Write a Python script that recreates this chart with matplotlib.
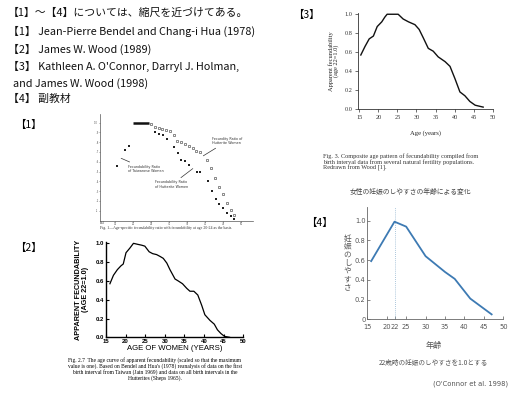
import matplotlib
matplotlib.use('Agg')
import matplotlib.pyplot as plt

W, H = 527, 393
JP = ['Noto Sans CJK JP', 'DejaVu Sans']
NARROW = ['DejaVu Sans']
SERIF = ['Liberation Serif', 'DejaVu Serif']
SANS = ['Liberation Sans', 'DejaVu Sans']

# header text
header_lines = ['【1】～【4】については、縮尺を近づけてある。',
                '【1】 Jean-Pierre Bendel and Chang-i Hua (1978)',
                '【2】 James W. Wood (1989)',
                '【3】 Kathleen A. O\'Connor, Darryl J. Holman,',
                'and James W. Wood (1998)',
                '【4】 副教材']

# [1] Bendel & Hua (1978)
b_taiwan_age = [15.5, 17.8, 18.8]
b_taiwan_val = [0.56, 0.72, 0.76]
b_base_age = [20, 24.5]
b_base_val = [1.0, 1.0]
b_upper_age = [25.0, 26.1, 27.1, 28.1, 29.2, 30.3, 31.3, 32.3, 33.3, 34.4, 35.6,
               36.6, 37.6, 38.5, 40.6, 41.7, 42.8, 43.9, 44.9, 46.0, 47.1, 48.1]
b_upper_val = [0.98, 0.95, 0.94, 0.93, 0.92, 0.91, 0.87, 0.81, 0.80, 0.78, 0.76,
               0.74, 0.71, 0.70, 0.62, 0.54, 0.43, 0.34, 0.27, 0.18, 0.11, 0.06]
b_lower_age = [26.1, 27.2, 28.2, 29.3, 31.5, 32.4, 33.4, 34.5, 35.6, 37.7, 38.7,
               40.8, 41.8, 42.9, 43.9, 45.0, 46.1, 47.1, 48.1]
b_lower_val = [0.90, 0.88, 0.87, 0.83, 0.75, 0.69, 0.62, 0.61, 0.57, 0.50, 0.50,
               0.40, 0.30, 0.22, 0.17, 0.13, 0.08, 0.05, 0.02]
b_yticks = [0.1, 0.2, 0.3, 0.4, 0.5, 0.6, 0.7, 0.8, 0.9, 1.0]
b_ylabels = ['.1', '.2', '.3', '.4', '.5', '.6', '.7', '.8', '.9', '1.0']
b_xticks = [15, 20, 25, 30, 35, 40, 45, 50]

# [2] Wood (1989)
w_age = [16.0, 16.9, 17.9, 18.8, 19.4, 20.1, 21.1, 22.0, 23.0, 24.1, 24.9, 26.0,
         26.9, 27.9, 28.8, 29.6, 30.5, 31.3, 32.6, 33.4, 34.5, 35.6, 36.4, 37.4,
         38.4, 39.4, 40.2, 41.5, 42.6, 43.4, 44.3, 45.2, 46.5]
w_val = [0.57, 0.66, 0.72, 0.76, 0.78, 0.90, 0.95, 1.00, 0.99, 0.98, 0.97, 0.91,
         0.89, 0.88, 0.86, 0.84, 0.79, 0.72, 0.62, 0.60, 0.57, 0.52, 0.49, 0.49,
         0.45, 0.34, 0.24, 0.18, 0.14, 0.08, 0.04, 0.01, 0.0]

# [3] O'Connor et al. (1998)
o_age = [15.4, 16.5, 17.6, 18.7, 19.7, 20.9, 21.7, 22.3, 25.2, 26.5, 27.9, 29.6,
         30.7, 31.8, 33.1, 34.4, 35.7, 37.5, 38.8, 40.1, 41.4, 42.7, 44.0, 45.4, 47.5]
o_val = [0.57, 0.66, 0.74, 0.77, 0.87, 0.92, 0.97, 1.0, 1.0, 0.95, 0.92, 0.89,
         0.84, 0.75, 0.64, 0.61, 0.55, 0.50, 0.45, 0.32, 0.18, 0.14, 0.08, 0.04, 0.02]

# [4] 副教材
f_age = [16, 22, 25, 30, 35, 37.5, 41.5, 47]
f_val = [0.59, 0.99, 0.94, 0.64, 0.48, 0.41, 0.21, 0.05]
f_xticks = [15, 20, 22, 25, 30, 35, 40, 45, 50]
f_yticks = [0, 0.2, 0.4, 0.6, 0.8, 1.0]
f_ylabels = ['0', '0.2', '0.4', '0.6', '0.8', '1.0']

fig = plt.figure(figsize=(W / 100, H / 100), dpi=100)


def box(x0, y0, x1, y1):
    return [x0 / W, 1 - y1 / H, (x1 - x0) / W, (y1 - y0) / H]


def ftext(x, y, s, **kw):
    kw.setdefault('va', 'center')
    return fig.text(x / W, 1 - y / H, s, **kw)


# header block
header_y = [13, 31.7, 49, 66.7, 83.3, 99.3]
for line, y in zip(header_lines, header_y):
    x = 13 if line.startswith('and') else 8
    ftext(x, y, line, family=JP, fontsize=7.8, color='#111111')

# bracket labels
ftext(28.5, 125, '【1】', family=JP, fontsize=7.5, ha='center')
ftext(28.5, 248, '【2】', family=JP, fontsize=7.5, ha='center')
ftext(306, 15, '【3】', family=JP, fontsize=7.5, ha='center')
ftext(319, 222.7, '【4】', family=JP, fontsize=7.5, ha='center')

# ---- [1]
ax1 = fig.add_axes(box(100, 114, 253, 220.5))
ax1.plot(b_taiwan_age, b_taiwan_val, 's', ms=1.6, color='#222222', mew=0)
ax1.plot(b_base_age, b_base_val, '-', lw=1.8, color='#111111', solid_capstyle='butt')
ax1.plot(b_upper_age, b_upper_val, 's', ms=1.7, mfc='white', mec='#333333', mew=0.4)
ax1.plot(b_lower_age, b_lower_val, 's', ms=1.6, color='#222222', mew=0)
ax1.set_xlim(10.83, 53.3)
ax1.set_ylim(0, 1.087)
for s in ['top', 'right']:
    ax1.spines[s].set_visible(False)
for s in ['left', 'bottom']:
    ax1.spines[s].set_linewidth(0.5)
    ax1.spines[s].set_color('#555555')
ax1.set_yticks(b_yticks)
ax1.set_yticklabels(b_ylabels)
ax1.set_xticks(b_xticks)
ax1.tick_params(labelsize=1.8, length=1.0, width=0.4, pad=0.6, colors='#555555')
ax1.tick_params(axis='x', pad=0.1)
ax1.text(11.5, -0.01, 'AGE', fontsize=1.8, color='#555555', va='top', ha='center')
ann = dict(arrowstyle='-', lw=0.5, color='#333333', shrinkA=0, shrinkB=0)
ax1.annotate('Fecundability Ratio\nof Taiwanese Women', xy=(16.7, 0.635), xytext=(18.6, 0.525),
             fontsize=2.4, va='center', ha='left', color='#333333', arrowprops=ann)
ax1.annotate('Fecundity Ratio of\nHutterite Women', xy=(39.5, 0.66), xytext=(41.9, 0.81),
             fontsize=2.4, va='center', ha='left', color='#333333', arrowprops=ann)
ax1.annotate('Fecundability Ratio\nof Hutterite Women', xy=(36.6, 0.53), xytext=(26.1, 0.365),
             fontsize=2.4, va='center', ha='left', color='#333333', arrowprops=ann)
ftext(100, 227.5, 'Fig. 1\u2014Age-specific fecundability ratio with fecundability at age 20-24 as the basis.',
      family=SERIF, fontsize=2.8, color='#333333')

# ---- [2]
ax2 = fig.add_axes(box(106, 242, 243.3, 337.3))
ax2.plot(w_age, w_val, '-', lw=0.9, color='black')
ax2.set_xlim(15, 50)
ax2.set_ylim(0, 1.014)
for s in ['top', 'right']:
    ax2.spines[s].set_visible(False)
for s in ['left', 'bottom']:
    ax2.spines[s].set_linewidth(1.0)
ax2.set_xticks([15, 20, 25, 30, 35, 40, 45, 50])
ax2.set_yticks([0, 0.2, 0.4, 0.6, 0.8, 1.0])
ax2.set_yticklabels(['0.0', '0.2', '0.4', '0.6', '0.8', '1.0'])
ax2.tick_params(direction='in', length=2.5, width=0.8, labelsize=4.3, pad=1.5)
for lab in ax2.get_xticklabels() + ax2.get_yticklabels():
    lab.set_fontweight('bold')
    lab.set_family(SANS)
ax2.set_xlabel('AGE OF WOMEN (YEARS)', family=SANS, fontsize=5.6, labelpad=0.5)
ax2.set_ylabel('APPARENT FECUNDABILITY\n(AGE 22=1.0)', family=SANS, fontsize=5.2,
               fontweight='bold', labelpad=5, linespacing=0.95)
ftext(155, 369, 'Fig. 2.7  The age curve of apparent fecundability (scaled so that the maximum\n'
      'value is one). Based on Bendel and Hua\'s (1978) reanalysis of data on the first\n'
      'birth interval from Taiwan (Jain 1969) and data on all birth intervals in the\n'
      'Hutterites (Sheps 1965).', family=SERIF, fontsize=4.0, ha='center',
      multialignment='center', linespacing=0.95)

# ---- [3]
ax3 = fig.add_axes(box(358.3, 13.3, 492.7, 109))
ax3.plot(o_age, o_val, '-', lw=1.0, color='#111111')
ax3.set_xlim(14.74, 50)
ax3.set_ylim(0, 1.01)
for s in ['top', 'right']:
    ax3.spines[s].set_visible(False)
for s in ['left', 'bottom']:
    ax3.spines[s].set_linewidth(0.6)
    ax3.spines[s].set_color('#333333')
ax3.set_xticks([15, 20, 25, 30, 35, 40, 45, 50])
ax3.set_yticks([0, 0.2, 0.4, 0.6, 0.8, 1.0])
ax3.set_yticklabels(['0.0', '0.2', '0.4', '0.6', '0.8', '1.0'])
ax3.tick_params(direction='out', length=2, width=0.5, labelsize=4.5, pad=2, colors='#333333')
for lab in ax3.get_xticklabels() + ax3.get_yticklabels():
    lab.set_family(SERIF)
ax3.set_xlabel('Age (years)', family=SERIF, fontsize=4.8, labelpad=8, color='#222222')
ax3.set_ylabel('Apparent fecundability\n(age 22=1.0)', family=SERIF, fontsize=4.6,
               labelpad=4, linespacing=1.0, color='#222222')
ftext(323, 162.5, 'Fig. 3. Composite age pattern of fecundability compiled from\n'
      'birth interval data from several natural fertility populations.\n'
      'Redrawn from Wood [1].', family=SERIF, fontsize=4.5, linespacing=1.05,
      color='#333333')

# ---- [4]
ftext(410, 191.7, '女性の妊娠のしやすさの年齢による変化', family=JP, fontsize=4.9,
      ha='center', color='#444444')
ax4 = fig.add_axes(box(367.3, 206.7, 503.3, 319.3))
ax4.axvline(22, ls=(0, (1, 1.5)), lw=0.6, color='#8fb3cf')
ax4.plot(f_age, f_val, '-', lw=1.3, color='#3d7ab3')
ax4.set_xlim(15, 50)
ax4.set_ylim(0, 1.142)
for s in ['top', 'right']:
    ax4.spines[s].set_visible(False)
for s in ['left', 'bottom']:
    ax4.spines[s].set_linewidth(0.6)
    ax4.spines[s].set_color('#666666')
ax4.set_xticks(f_xticks)
ax4.set_yticks(f_yticks)
ax4.set_yticklabels(f_ylabels)
ax4.tick_params(direction='in', length=2.2, width=0.5, labelsize=5.3, pad=1.2,
                colors='#555555')
ax4.tick_params(axis='x', pad=3.2)
for lab in ax4.get_xticklabels() + ax4.get_yticklabels():
    lab.set_family(NARROW)
    lab.set_fontstretch('condensed')
ftext(347.5, 263, '\n'.join('妊娠のしやすさ'), family=JP, fontsize=5.5, ha='center',
      linespacing=1.0, color='#555555')
ftext(433.3, 345.7, '年齢', family=JP, fontsize=5.8, ha='center', color='#555555')
ftext(433.3, 363.3, '22歳時の妊娠のしやすさを1.0とする', family=JP, fontsize=4.8,
      ha='center', color='#555555')
ftext(470.5, 383.3, "(O'Connor et al. 1998)", family=NARROW, fontstretch='condensed',
      fontsize=5.4, ha='center', color='#555555')

fig.savefig('out.png', dpi=100)
